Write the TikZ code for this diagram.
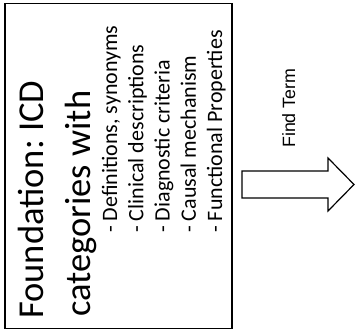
\documentclass[tikz,border=0pt]{standalone}
\usepackage{fontspec}
\setmainfont{Carlito}
\newfontfamily\arialfont{Liberation Sans}
\usetikzlibrary{positioning}
\frenchspacing

\begin{document}
\begin{tikzpicture}[x=1pt, y=1pt,
  big/.style={rotate=90, anchor=base west, inner sep=0pt, font=\fontsize{36.5}{40}\selectfont},
  item/.style={rotate=90, anchor=base west, inner sep=0pt, font=\fontsize{22}{26}\selectfont}]
\useasboundingbox (0,0) rectangle (355,332);
\node [draw, line width=1.3pt, minimum width=227pt, minimum height=325pt, inner sep=0pt] (found) at (118.5,166) {};
\node [big] (titleA) at (43,13) {Foundation: ICD};
\node [big] (titleB) at (90,15) {categories with};
\node [item] (defs) at (117,99) {- Definitions, synonyms};
\node [item] (clin) at (143.3,99) {- Clinical descriptions};
\node [item] (diag) at (169.6,99) {- Diagnostic criteria};
\node [item] (caus) at (195.9,99) {- Causal mechanism};
\node [item] (func) at (222.2,99) {- Functional Properties};

% block arrow to the right
\coordinate (tail) at (242,147.5);
\draw [line width=1.2pt, line join=miter] (tail) ++(0,-13.5) -- ++(86,0) -- ++(0,-13) -- (354,147.5) -- (328,174) -- ++(0,-13) -- (242,161) -- cycle;
\node [rotate=90, anchor=base west, inner sep=0pt, font=\arialfont\fontsize{17.8}{20}\selectfont] (find) at (295,184) {Find Term};
\end{tikzpicture}
\end{document}
